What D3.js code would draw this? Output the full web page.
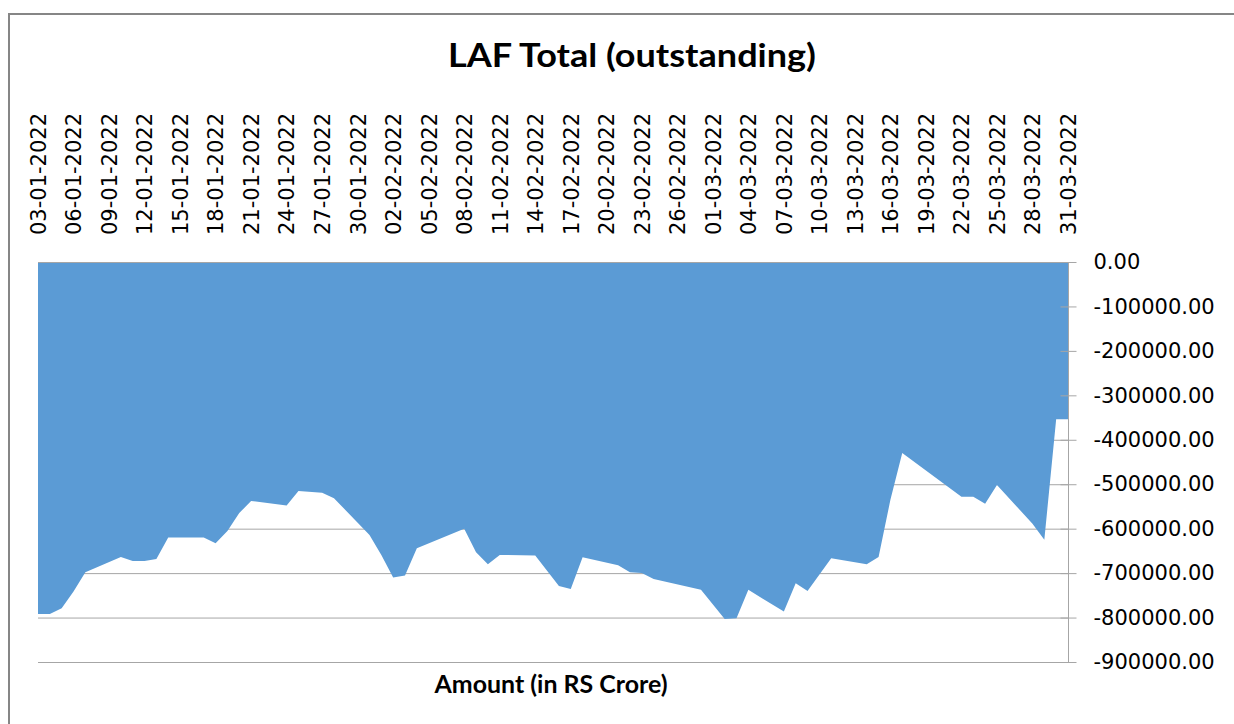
<!DOCTYPE html>
<html>
<head>
<meta charset="utf-8">
<script src="https://cdn.jsdelivr.net/npm/d3@7"></script>
<style>
  body { margin: 0; background: #fff; }
</style>
</head>
<body>
<div id="chart"></div>
<script>
// data (amounts in Rs crore, business days only)
var dates = [
  "2022-01-03","2022-01-04","2022-01-05","2022-01-06","2022-01-07",
  "2022-01-10","2022-01-11","2022-01-12","2022-01-13","2022-01-14",
  "2022-01-17","2022-01-18","2022-01-19","2022-01-20","2022-01-21",
  "2022-01-24","2022-01-25","2022-01-27","2022-01-28","2022-01-31",
  "2022-02-01","2022-02-02","2022-02-03","2022-02-04","2022-02-08",
  "2022-02-09","2022-02-10","2022-02-11","2022-02-14","2022-02-16",
  "2022-02-17","2022-02-18","2022-02-21","2022-02-22","2022-02-23",
  "2022-02-24","2022-02-28","2022-03-02","2022-03-03","2022-03-04",
  "2022-03-07","2022-03-08","2022-03-09","2022-03-11","2022-03-14",
  "2022-03-15","2022-03-16","2022-03-17","2022-03-22","2022-03-23",
  "2022-03-24","2022-03-25","2022-03-28","2022-03-29","2022-03-30",
  "2022-03-31"
];
var lafTotal = [
  -792000,-792000,-779000,-741500,-698000,
  -664000,-673000,-673000,-668000,-620000,
  -620000,-633000,-605000,-565000,-537500,
  -548000,-515000,-519000,-531500,-614000,
  -659000,-710000,-705500,-644000,-600000,
  -653000,-680000,-659000,-660500,-729000,
  -735500,-664500,-682500,-698000,-700000,
  -713000,-737500,-803500,-801500,-737500,
  -786500,-723000,-740000,-666500,-680000,
  -664000,-535000,-430000,-528000,-528000,
  -544000,-501500,-589000,-625000,-354000,
  -354000
];
var yTicks = [0,-100000,-200000,-300000,-400000,-500000,-600000,-700000,-800000,-900000];
var xStart = "2022-01-03", xEnd = "2022-03-31";
var chartTitle = "LAF Total (outstanding)";
var axisTitle = "Amount (in RS Crore)";

var parseDate = d3.utcParse("%Y-%m-%d");
var fmtDate = d3.utcFormat("%d-%m-%Y");

var data = dates.map(function(d, i) {
  return { date: parseDate(d), value: lafTotal[i] };
});

var width = 1234, height = 724;
var svg = d3.select("#chart").append("svg")
  .attr("width", width)
  .attr("height", height)
  .style("display", "block");

// outer chart border
svg.append("rect")
  .attr("x", 9).attr("y", 14)
  .attr("width", 1300).attr("height", 800)
  .attr("fill", "#fff")
  .attr("stroke", "#868686")
  .attr("stroke-width", 2);

var x = d3.scaleUtc()
  .domain([parseDate(xStart), parseDate(xEnd)])
  .range([38, 1068]);
var y = d3.scaleLinear()
  .domain([0, -900000])
  .range([262, 662]);

// gridlines
svg.append("g")
  .selectAll("line")
  .data(yTicks)
  .enter()
  .append("line")
  .attr("x1", 38).attr("x2", 1068)
  .attr("y1", function(d) { return y(d) + 0.5; })
  .attr("y2", function(d) { return y(d) + 0.5; })
  .attr("stroke", "#a6a6a6")
  .attr("stroke-width", 1);

// area
var area = d3.area()
  .x(function(d) { return x(d.date); })
  .y0(y(0))
  .y1(function(d) { return y(d.value); });

svg.append("path")
  .datum(data)
  .attr("d", area)
  .attr("fill", "#5b9bd5");

// top line at zero
svg.append("line")
  .attr("x1", 38).attr("x2", 1068)
  .attr("y1", y(0) + 0.5).attr("y2", y(0) + 0.5)
  .attr("stroke", "#a6a6a6");

// value axis on the right
var yAxis = d3.axisRight(y)
  .tickValues(yTicks)
  .tickSize(8)
  .tickPadding(17)
  .tickFormat(function(d) { return d.toFixed(2); });

var gy = svg.append("g")
  .attr("transform", "translate(1068.5,0)")
  .call(yAxis);
gy.select(".domain").attr("stroke", "#a6a6a6").attr("d", "M0," + y(0) + "V" + y(-900000));
gy.selectAll(".tick line").attr("stroke", "#a6a6a6").attr("x1", -8).attr("x2", 8);
gy.selectAll("text")
  .attr("fill", "#000")
  .style("font-family", "DejaVu Sans")
  .style("font-size", "21px");

// date axis labels above the plot
var xTicks = d3.utcDay.range(parseDate(xStart), d3.utcDay.offset(parseDate(xEnd), 1), 3);
var xAxis = d3.axisTop(x)
  .tickValues(xTicks)
  .tickSize(0)
  .tickPadding(0)
  .tickFormat(fmtDate);

var gx = svg.append("g")
  .attr("transform", "translate(0,235)")
  .call(xAxis);
gx.select(".domain").remove();
gx.selectAll("text")
  .attr("fill", "#000")
  .attr("transform", "rotate(-90)")
  .attr("x", 0)
  .attr("y", 0)
  .attr("dy", "0.35em")
  .attr("text-anchor", "start")
  .style("font-family", "DejaVu Sans")
  .style("font-size", "21px");

// titles
svg.append("text")
  .attr("x", 632).attr("y", 67)
  .attr("text-anchor", "middle")
  .attr("textLength", 368)
  .attr("lengthAdjust", "spacingAndGlyphs")
  .style("font-family", "Lato")
  .style("font-weight", "bold")
  .style("font-size", "32px")
  .text(chartTitle);

svg.append("text")
  .attr("x", 551).attr("y", 693)
  .attr("text-anchor", "middle")
  .attr("textLength", 233)
  .attr("lengthAdjust", "spacingAndGlyphs")
  .style("font-family", "Lato")
  .style("font-weight", "bold")
  .style("font-size", "24px")
  .text(axisTitle);
</script>
</body>
</html>
